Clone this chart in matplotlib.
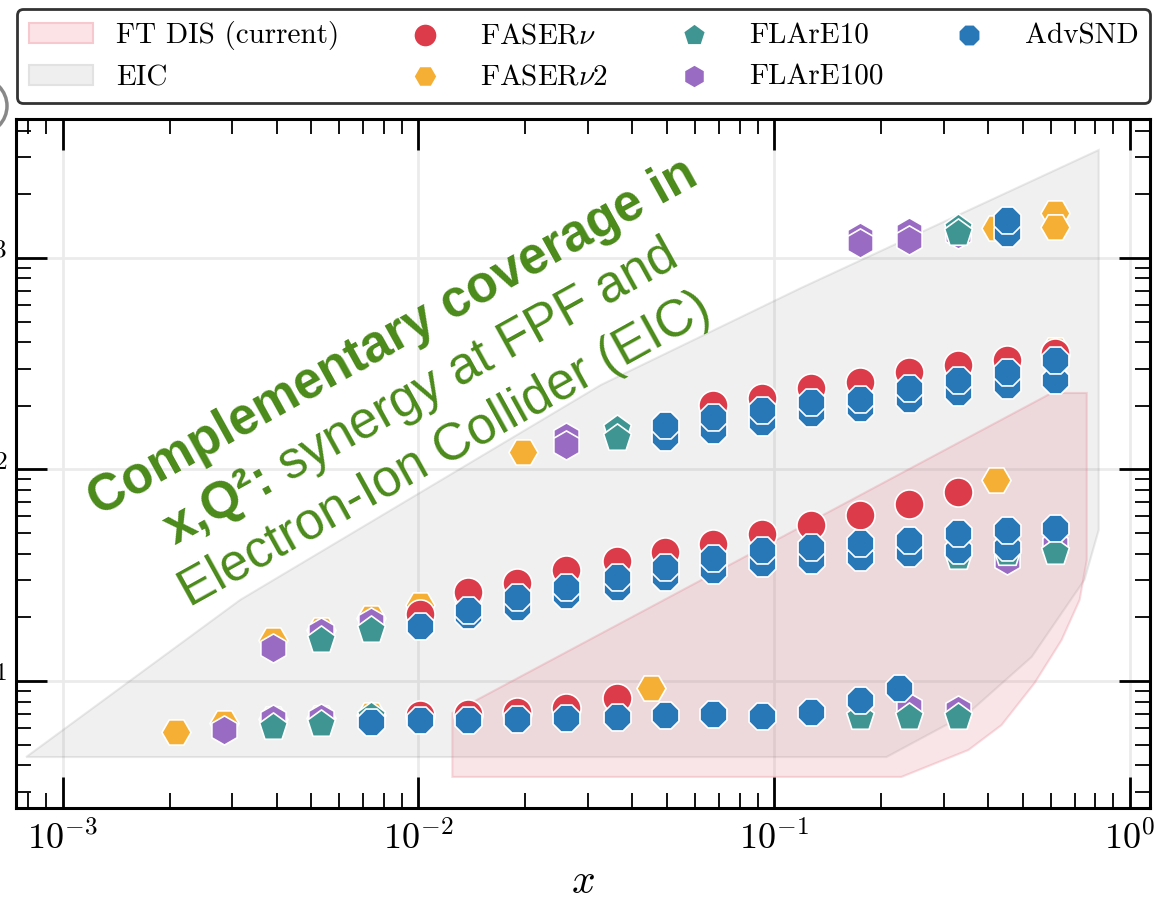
import matplotlib
matplotlib.use("Agg")
import matplotlib.pyplot as plt
from matplotlib.patches import Polygon, Ellipse, Patch
from matplotlib.ticker import NullFormatter
from matplotlib.font_manager import FontProperties
import numpy as np

plt.rcParams['font.family'] = 'cmr10'
plt.rcParams['mathtext.fontset'] = 'cm'
plt.rcParams['axes.formatter.use_mathtext'] = True

# coverage regions (x, Q^2)
eic_x = [7.9e-4, 3.16e-3, 0.0326, 0.119, 0.818, 0.818, 0.746, 0.53, 0.352, 0.207]
eic_q2 = [4.37, 24.2, 251, 721, 3240, 51.8, 30.1, 13.0, 7.06, 4.37]
ftdis_x = [0.01247, 0.01247, 0.228, 0.352, 0.436, 0.54, 0.643, 0.723, 0.757, 0.757, 0.603]
ftdis_q2 = [7.06, 3.52, 3.52, 4.72, 6.19, 9.78, 15.6, 24.2, 37.3, 230, 230]

# FASERnu
fnu_x = [0.0101, 0.0138, 0.019, 0.0261, 0.0361,
         0.0101, 0.0138, 0.0138, 0.019, 0.0261, 0.0361, 0.0493, 0.0673, 0.0925,
         0.127, 0.1745, 0.24, 0.33,
         0.0673, 0.0925, 0.127, 0.1745, 0.24, 0.33, 0.453, 0.616]
fnu_q2 = [6.9, 7.0, 7.1, 7.45, 8.3,
          20.7, 25.5, 26.4, 29.1, 33.5, 36.9, 40.7, 44.4, 49.5,
          54.7, 61.0, 68.7, 78.3,
          202, 218, 243, 259, 289, 312, 330, 356]

# FASERnu2
fnu2_x = [0.00208, 0.00284, 0.0039, 0.00533, 0.00738, 0.0451,
          0.0039, 0.00533, 0.00738, 0.0101, 0.422,
          0.0197, 0.616,
          0.42, 0.616, 0.616]
fnu2_q2 = [5.74, 6.3, 6.6, 6.7, 6.9, 9.27,
           15.6, 17.4, 19.8, 22.8, 89.2,
           121, 367,
           1387, 1633, 1402]

# FLArE100
fl100_x = [0.00284, 0.0039, 0.00533, 0.24, 0.33,
           0.0039, 0.00533, 0.00738, 0.453, 0.616,
           0.0261, 0.0261,
           0.1745, 0.1745, 0.24, 0.24, 0.33]
fl100_q2 = [5.86, 6.6, 6.7, 7.5, 7.3,
            14.3, 17.0, 19.0, 37.3, 44.0,
            142.5, 130.6,
            1257, 1178, 1327, 1216, 1300]

# FLArE10
fl10_x = [0.0039, 0.00533, 0.00738, 0.1745, 0.24, 0.33,
          0.00533, 0.00738, 0.33, 0.453, 0.616,
          0.0361, 0.0361,
          0.33, 0.33]
fl10_q2 = [6.06, 6.26, 6.8, 6.76, 6.76, 6.76,
           15.6, 17.4, 38.6, 40.3, 40.7,
           155, 141,
           1390, 1313]

# AdvSND
adv_x = [0.00738, 0.0101, 0.0138, 0.019, 0.0261, 0.0361, 0.0493, 0.0673, 0.0925,
         0.127, 0.1745, 0.225,
         0.0101, 0.0138, 0.0138, 0.019, 0.019, 0.0261, 0.0261, 0.0361, 0.0361,
         0.0493, 0.0493, 0.0673, 0.0673, 0.0925, 0.0925, 0.127, 0.127,
         0.1745, 0.1745, 0.24, 0.24, 0.33, 0.33, 0.453, 0.453, 0.616,
         0.0493, 0.0493, 0.0673, 0.0673, 0.0925, 0.0925, 0.127, 0.127,
         0.1745, 0.1745, 0.24, 0.24, 0.33, 0.33, 0.453, 0.453, 0.616, 0.616,
         0.453, 0.453]
adv_q2 = [6.4, 6.54, 6.54, 6.61, 6.68, 6.76, 6.9, 6.98, 6.83,
          7.14, 8.13, 9.27,
          18.2, 20.5, 21.7, 22.4, 24.9, 25.5, 27.8, 27.8, 31.0,
          31.0, 34.6, 33.5, 38.2, 36.1, 41.6, 37.3, 43.0,
          38.6, 44.9, 40.3, 46.4, 41.6, 50.1, 43.0, 51.8, 52.9,
          142.5, 162, 154, 177, 168, 191, 185, 208,
          195, 216, 216, 243, 232, 265, 251, 289, 265, 330,
          1313, 1512]

series = [
    ('FASER$\\nu$2', fnu2_x, fnu2_q2, '#f5af34', 'H'),
    ('FLArE100', fl100_x, fl100_q2, '#9a6bc2', 'h'),
    ('FLArE10', fl10_x, fl10_q2, '#3f9592', 'p'),
    ('FASER$\\nu$', fnu_x, fnu_q2, '#dc3c4a', 'o'),
    ('AdvSND', adv_x, adv_q2, '#2878b8', '8'),
]

fig = plt.figure(figsize=(11.59, 9.02), dpi=100)
ax = fig.add_axes([16/1159, 1-808/902, (1150-16)/1159, (808-119)/902])
ax.set_xscale('log')
ax.set_yscale('log')

ax.add_patch(Polygon(np.column_stack([eic_x, eic_q2]), closed=True,
                     facecolor='#888888', alpha=0.12, edgecolor='#555555',
                     lw=1.5, zorder=1))
ax.add_patch(Polygon(np.column_stack([ftdis_x, ftdis_q2]), closed=True,
                     facecolor='#e48a96', alpha=0.22, edgecolor='#e06070',
                     lw=1.5, zorder=1.5))

handles = {}
for name, xs, ys, col, mk in series:
    handles[name] = ax.scatter(xs, ys, s=440, marker=mk, color=col,
                               edgecolors='white', linewidths=1.2, zorder=3,
                               label=name)

ax.set_xlim(7.4e-4, 1.14)
ax.set_ylim(2.51, 4540)

ax.tick_params(which='both', direction='in', top=True, right=True,
               labelsize=26)
ax.tick_params(axis='x', which='both', pad=9)
ax.tick_params(axis='y', which='both', pad=6)
ax.tick_params(which='major', length=22, width=2)
ax.tick_params(which='minor', length=11, width=1.3)
ax.xaxis.set_minor_formatter(NullFormatter())
ax.yaxis.set_minor_formatter(NullFormatter())
for sp in ax.spines.values():
    sp.set_linewidth(2.2)
ax.grid(True, which='major', color='#ebebeb', lw=2)
ax.set_axisbelow(True)
ax.set_xlabel('$x$', fontsize=30, labelpad=5)

leg_handles = [
    Patch(facecolor='#fbe3e6', edgecolor='#f6c9ce', lw=1.5),
    Patch(facecolor='#efefef', edgecolor='#e2e2e2', lw=1.5),
    handles['FASER$\\nu$'], handles['FASER$\\nu$2'],
    handles['FLArE10'], handles['FLArE100'], handles['AdvSND'],
]
leg_labels = ['FT DIS (current)', 'EIC', 'FASER$\\nu$', 'FASER$\\nu$2',
              'FLArE10', 'FLArE100', 'AdvSND']
leg = fig.legend(leg_handles, leg_labels, loc='center',
                 bbox_to_anchor=(17/1159, 1-107/902, 1133/1159, 102/902),
                 mode='expand', ncol=4, fontsize=21, frameon=True,
                 fancybox=True, edgecolor='#333333', framealpha=1,
                 handlelength=2.2, markerscale=0.8, borderaxespad=0)
leg.get_frame().set_linewidth(2)

fig.add_artist(Ellipse((-21/1159, 1-106/902), 56/1159, 56/902,
                       transform=fig.transFigure, fill=False,
                       edgecolor='#888888', lw=2.5))

# rotated annotation
theta = 29
green = '#4a8a1a'
fp_b = FontProperties(family='Liberation Sans', weight='bold', size=37)
fp_r = FontProperties(family='Liberation Sans', size=37)
ct, st = np.cos(np.radians(theta)), np.sin(np.radians(theta))


def fpx(px, py):
    return px/1159, 1-py/902


kw = dict(color=green, rotation=theta, rotation_mode='anchor',
          va='baseline', zorder=6)
fig.text(*fpx(400, 350), 'Complementary coverage in', fontproperties=fp_b,
         ha='center', **kw)
fig.text(*fpx(452, 462), 'Electron-Ion Collider (EIC)', fontproperties=fp_r,
         ha='center', **kw)

rend = fig.canvas.get_renderer()
p1, p2 = 'x,Q²:', ' synergy at FPF and'
w1 = rend.get_text_width_height_descent(p1, fp_b, ismath=False)[0]
w2 = rend.get_text_width_height_descent(p2, fp_r, ismath=False)[0]
cx, cy = 428, 405
sx, sy = cx - (w1+w2)/2*ct, cy + (w1+w2)/2*st
fig.text(*fpx(sx, sy), p1, fontproperties=fp_b, ha='left', **kw)
fig.text(*fpx(sx + w1*ct, sy - w1*st), p2, fontproperties=fp_r, ha='left', **kw)

fig.savefig('out.png', dpi=100, facecolor='white')
